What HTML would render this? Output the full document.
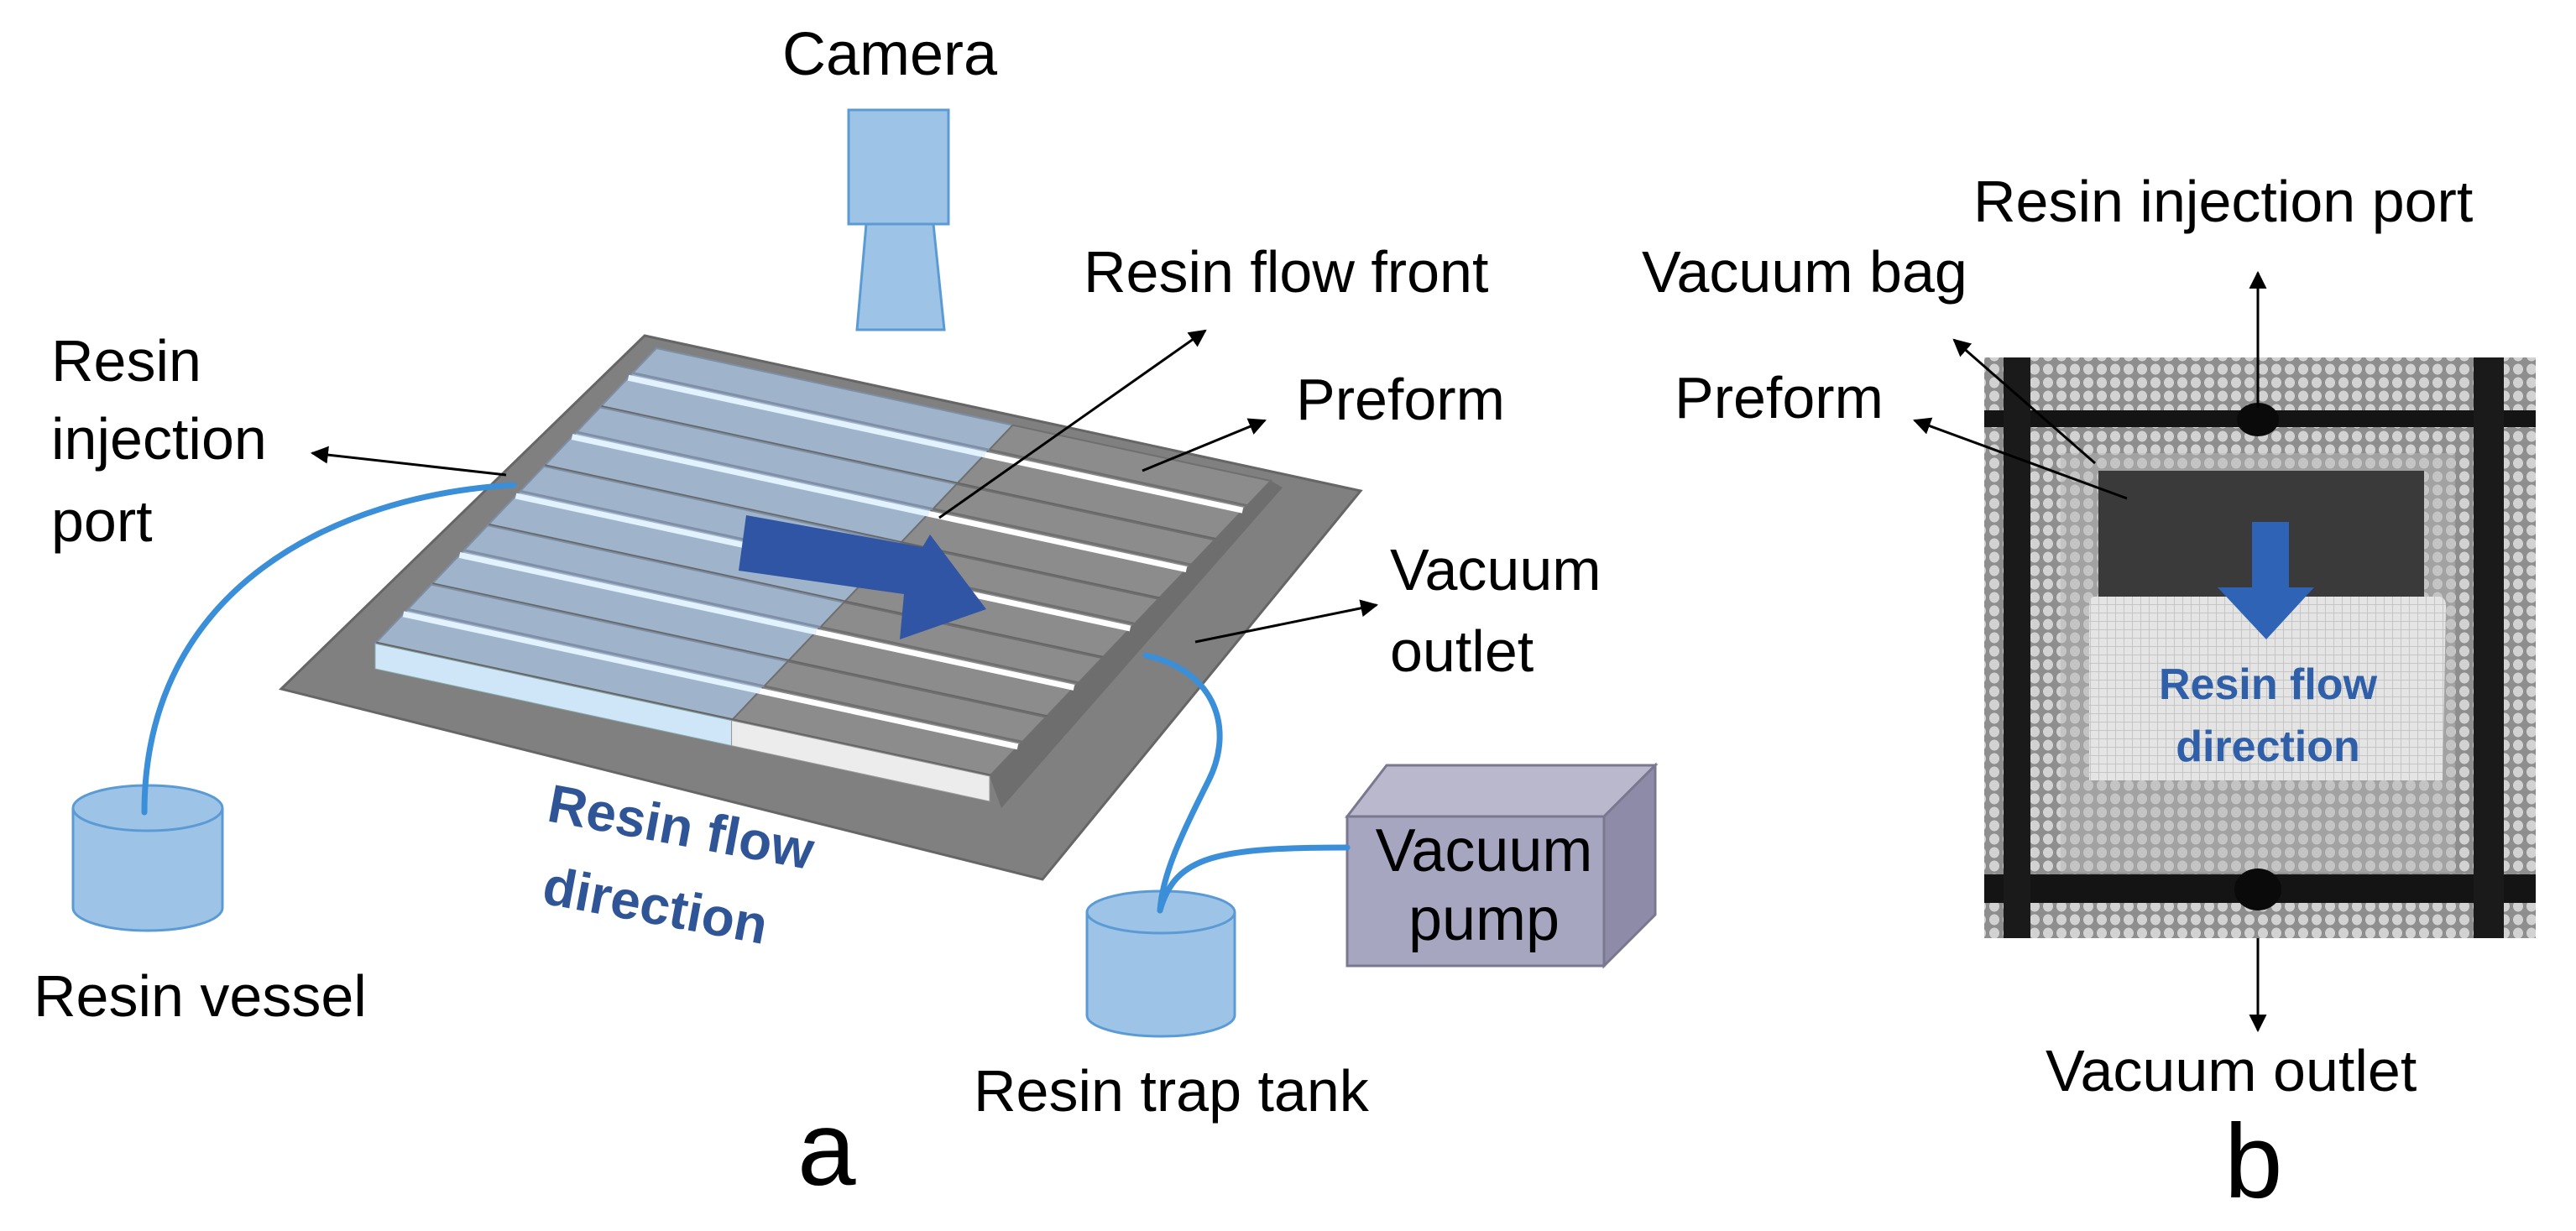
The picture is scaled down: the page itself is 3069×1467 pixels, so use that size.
<!DOCTYPE html>
<html><head><meta charset="utf-8"><style>
html,body{margin:0;padding:0;background:#fff;}
svg{display:block;}
text{font-family:"Liberation Sans",sans-serif;}
</style></head><body>
<svg width="3069" height="1467" viewBox="0 0 3069 1467" xmlns="http://www.w3.org/2000/svg">
<defs>
<marker id="a" viewBox="0 0 10 10" refX="9" refY="5" markerWidth="7" markerHeight="7" orient="auto"><path d="M0,0 L10,5 L0,10 z" fill="#000"/></marker>
<pattern id="mesh" width="16" height="16" patternUnits="userSpaceOnUse">
<rect width="16" height="16" fill="#8e8e8e"/>
<ellipse cx="8" cy="8" rx="6" ry="6.5" fill="#d2d2d2"/>
</pattern>
<pattern id="grid" width="10" height="10" patternUnits="userSpaceOnUse">
<rect width="10" height="10" fill="#e4e4e4"/>
<path d="M0,0 H10 M0,0 V10" stroke="#bdbdbd" stroke-width="1.5"/>
</pattern>
</defs>

<text x="1060" y="89" font-size="72" text-anchor="middle">Camera</text>
<rect x="1011" y="131" width="119" height="136" fill="#9dc3e6" stroke="#5b9bd5" stroke-width="3"/>
<polygon points="1032,267 1112,267 1125,393 1021,393" fill="#9dc3e6" stroke="#5b9bd5" stroke-width="3"/>

<polygon points="768,400 1621,585 1242,1048 335,821" fill="#808080" stroke="#666" stroke-width="3"/>

<g id="bars"></g>
<script>
(function(){
var g=document.getElementById('bars');var ns='http://www.w3.org/2000/svg';
function poly(pts,fill,stroke,sw){var p=document.createElementNS(ns,'polygon');p.setAttribute('points',pts.map(function(q){return q[0]+','+q[1]}).join(' '));p.setAttribute('fill',fill);if(stroke){p.setAttribute('stroke',stroke);p.setAttribute('stroke-width',sw||2);}g.appendChild(p);}
function line(a,b,c,w){var l=document.createElementNS(ns,'line');l.setAttribute('x1',a[0]);l.setAttribute('y1',a[1]);l.setAttribute('x2',b[0]);l.setAttribute('y2',b[1]);l.setAttribute('stroke',c);l.setAttribute('stroke-width',w);g.appendChild(l);}
var TL=[782,415],u=[732,158],L=[-335,352],f=0.58;
function P(o,a,b){return [o[0]+a*u[0]+b*L[0], o[1]+a*u[1]+b*L[1]];}
poly([P(TL,1,0),[P(TL,1,0)[0]+14,P(TL,1,0)[1]+8],[P(TL,1,1)[0]+14,P(TL,1,1)[1]+38],P(TL,1,1)],'#6e6e6e');
for(var i=0;i<5;i++){
 var b0=i/5,b1=(i+1)/5,bm=b0+0.42/5,bs=b0+0.5/5;
 poly([P(TL,0,b0),P(TL,f,b0),P(TL,f,b1),P(TL,0,b1)],'#9fb3cb','#7d8ea5',2);
 poly([P(TL,f,b0),P(TL,1,b0),P(TL,1,b1),P(TL,f,b1)],'#8c8c8c','#6f6f6f',2);
 line(P(TL,0,bm),P(TL,f,bm),'#7f8fa6',3);
 line(P(TL,f,bm),P(TL,1,bm),'#707070',3);
 line(P(TL,0,bs),P(TL,f,bs),'#e2f2ff',7);
 line(P(TL,f,bs),P(TL,1,bs),'#ffffff',7);
 line(P(TL,0,b1-0.004),P(TL,1,b1-0.004),'#666',2);
}
var A=P(TL,0,1),M=P(TL,f,1),B=P(TL,1,1);
poly([A,M,[M[0],M[1]+30],[A[0],A[1]+30]],'#cfe6f8','#8aa',1);
poly([M,B,[B[0],B[1]+30],[M[0],M[1]+30]],'#ececec','#999',1);
})();
</script>

<polygon points="889,614 1099,652 1108,637 1175,726 1072,762 1077,708 880,680" fill="#2f55a4"/>

<!-- Resin vessel -->
<g fill="#9dc3e6" stroke="#5b9bd5" stroke-width="3">
<path d="M87,963 V1082 A89,27 0 0 0 265,1082 V963"/>
<ellipse cx="176" cy="963" rx="89" ry="27"/>
</g>
<!-- Trap tank -->
<g fill="#9dc3e6" stroke="#5b9bd5" stroke-width="3">
<path d="M1295,1087 V1210 A88,25 0 0 0 1471,1210 V1087"/>
<ellipse cx="1383" cy="1087" rx="88" ry="25"/>
</g>

<!-- Vacuum pump -->
<polygon points="1605,973 1652,912 1972,912 1911,973" fill="#b9b8cd" stroke="#7a7890" stroke-width="3"/>
<polygon points="1911,973 1972,912 1972,1090 1911,1151" fill="#8d8ba8" stroke="#7a7890" stroke-width="3"/>
<rect x="1605" y="973" width="306" height="178" fill="#a7a6c0" stroke="#7a7890" stroke-width="3"/>
<text x="1768" y="1038" font-size="72" text-anchor="middle">Vacuum</text>
<text x="1768" y="1120" font-size="72" text-anchor="middle">pump</text>

<!-- Tubes (on top) -->
<g fill="none" stroke="#3a8fd8" stroke-width="7" stroke-linecap="round">
<path d="M612,578 C400,590 172,700 172,968"/>
<path d="M1365,781 C1450,800 1470,870 1440,930 S1385,1040 1382,1085"/>
<path d="M1382,1085 C1400,1020 1450,1010 1605,1010"/>
</g>

<text x="61" y="454" font-size="70">Resin</text>
<text x="61" y="547" font-size="70">injection</text>
<text x="61" y="645" font-size="70">port</text>
<text x="40" y="1211" font-size="70">Resin vessel</text>
<text x="1291" y="348" font-size="70">Resin flow front</text>
<text x="1544" y="500" font-size="70">Preform</text>
<text x="1656" y="703" font-size="70">Vacuum</text>
<text x="1656" y="800" font-size="70">outlet</text>
<text x="1160" y="1324" font-size="70">Resin trap tank</text>
<text x="950" y="1412" font-size="125">a</text>
<g fill="#2f5597" font-weight="bold" font-size="64">
<text transform="translate(650,978) rotate(10.5)">Resin flow</text>
<text transform="translate(644,1076) rotate(10.5)">direction</text>
</g>

<g stroke="#000" stroke-width="3" marker-end="url(#a)">
<line x1="603" y1="566" x2="372" y2="540"/>
<line x1="1119" y1="617" x2="1436" y2="394"/>
<line x1="1361" y1="561" x2="1507" y2="501"/>
<line x1="1424" y1="765" x2="1640" y2="721"/>
</g>

<!-- Photo b -->
<rect x="2364" y="426" width="657" height="692" fill="url(#mesh)"/>
<rect x="2455" y="540" width="470" height="500" fill="#b5b5b5" opacity="0.5"/>
<rect x="2500" y="561" width="388" height="150" fill="#3a3a3a"/>
<path d="M2495,711 H2905 Q2915,711 2914,725 L2910,930 H2489 L2489,725 Q2489,711 2495,711 Z" fill="url(#grid)"/>
<rect x="2364" y="489" width="657" height="20" fill="#141414"/>
<rect x="2364" y="1042" width="657" height="34" fill="#141414"/>
<rect x="2387" y="426" width="32" height="692" fill="#1a1a1a"/>
<rect x="2947" y="426" width="36" height="692" fill="#1a1a1a"/>
<ellipse cx="2690" cy="500" rx="25" ry="20" fill="#0a0a0a"/>
<ellipse cx="2690" cy="1060" rx="28" ry="25" fill="#0a0a0a"/>
<rect x="2683" y="622" width="44" height="80" fill="#2e63b5"/>
<polygon points="2642,700 2757,700 2700,762" fill="#2e63b5"/>
<g fill="#2f5fa8" font-weight="bold" font-size="52" text-anchor="middle">
<text x="2702" y="833">Resin flow</text>
<text x="2702" y="907">direction</text>
</g>

<text x="2351" y="264" font-size="70">Resin injection port</text>
<text x="1956" y="348" font-size="70">Vacuum bag</text>
<text x="1995" y="498" font-size="70">Preform</text>
<text x="2437" y="1300" font-size="70">Vacuum outlet</text>
<text x="2650" y="1427" font-size="125">b</text>
<g stroke="#000" stroke-width="3" marker-end="url(#a)">
<line x1="2690" y1="486" x2="2690" y2="325"/>
<line x1="2690" y1="1118" x2="2690" y2="1228"/>
<line x1="2496" y1="552" x2="2328" y2="405"/>
<line x1="2534" y1="594" x2="2281" y2="501"/>
</g>
</svg>
</body></html>
